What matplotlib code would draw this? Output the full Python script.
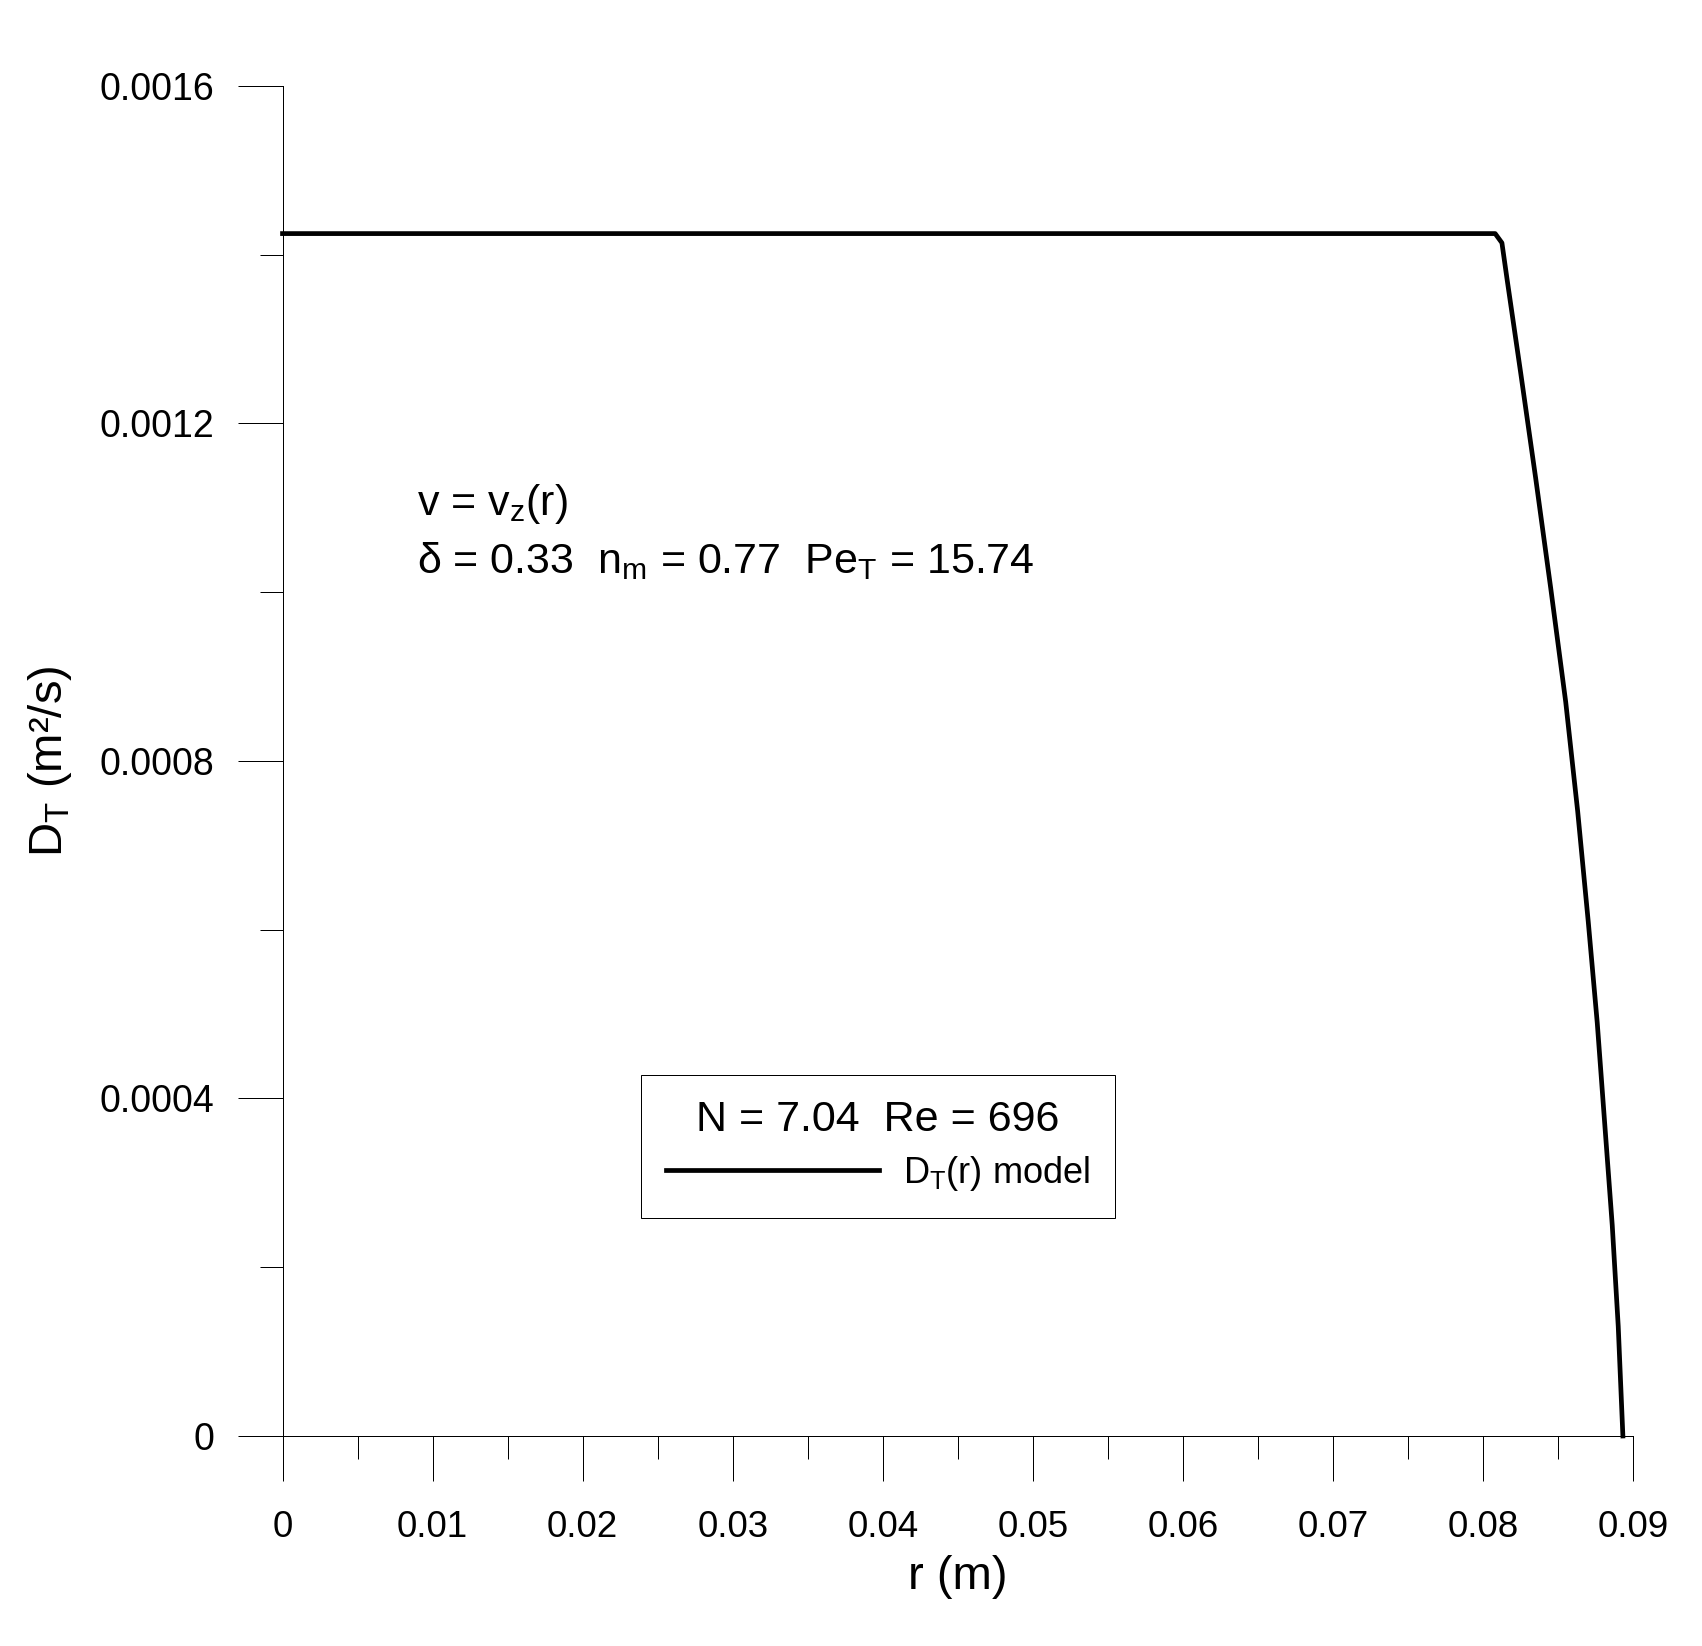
import matplotlib.pyplot as plt
from matplotlib.ticker import MultipleLocator

plt.rcParams['font.family'] = ['Liberation Sans', 'DejaVu Sans']
plt.rcParams['mathtext.fontset'] = 'custom'
plt.rcParams['mathtext.rm'] = 'Liberation Sans'
plt.rcParams['mathtext.it'] = 'Liberation Sans:italic'

# D_T(r) model
r_m = [0.0, 0.0808, 0.08125, 0.0816, 0.0825, 0.0835, 0.0845, 0.0855, 0.0863,
       0.0870, 0.0876, 0.0881, 0.0886, 0.0890, 0.08931]
dt_m2s = [0.001425, 0.001425, 0.001414, 0.00137, 0.00126, 0.001135, 0.001005,
          0.00087, 0.00074, 0.00061, 0.00049, 0.00037, 0.00025, 0.00013, 0.0]

x_ticks = [0, 0.01, 0.02, 0.03, 0.04, 0.05, 0.06, 0.07, 0.08, 0.09]
x_tick_labels = ["0", "0.01", "0.02", "0.03", "0.04", "0.05", "0.06", "0.07", "0.08", "0.09"]
y_ticks = [0, 0.0004, 0.0008, 0.0012, 0.0016]
y_tick_labels = ["0", "0.0004", "0.0008", "0.0012", "0.0016"]

fig = plt.figure(figsize=(17.02, 16.46), dpi=100)
ax = fig.add_axes([0.166, 0.1276, 0.7936, 0.8202])

ax.plot(r_m, dt_m2s, color='black', linewidth=3.4, clip_on=False,
        solid_joinstyle='round', label=r'D$_\mathregular{T}$(r) model')

ax.set_xlim(0, 0.09)
ax.set_ylim(0, 0.0016)
ax.set_xticks(x_ticks)
ax.set_xticklabels(x_tick_labels)
ax.set_yticks(y_ticks)
ax.set_yticklabels(y_tick_labels)
ax.xaxis.set_minor_locator(MultipleLocator(0.005))
ax.yaxis.set_minor_locator(MultipleLocator(0.0002))

for s in ['top', 'right']:
    ax.spines[s].set_visible(False)
for s in ['left', 'bottom']:
    ax.spines[s].set_linewidth(0.72)

ax.tick_params(which='major', direction='out', length=32.4, width=0.72)
ax.tick_params(which='minor', direction='out', length=16.4, width=0.72)
ax.tick_params(axis='x', which='major', pad=21, labelsize=26.5)
ax.tick_params(axis='y', which='major', pad=17, labelsize=27)

ax.set_xlabel("r (m)", fontsize=34, va='center')
ax.xaxis.set_label_coords(0.5, -0.1044)
ax.set_ylabel(r"D$_\mathregular{T}$ (m²/s)", fontsize=34, va='center')
ax.yaxis.set_label_coords(-0.172, 0.5)

ax.text(0.0993, 0.6822, r'v = v$_\mathregular{z}$(r)', transform=ax.transAxes,
        fontsize=31, va='baseline')
ax.text(0.0993, 0.6395, r'δ = 0.33  n$_\mathregular{m}$ = 0.77  Pe$_\mathregular{T}$ = 15.74',
        transform=ax.transAxes, fontsize=31, va='baseline')

leg = ax.legend(loc='upper left', bbox_to_anchor=(641 / 1702, 1 - 1075 / 1646),
                bbox_transform=fig.transFigure, borderaxespad=0,
                title='N = 7.04  Re = 696', title_fontsize=31, fontsize=26,
                handlelength=5.9, handletextpad=0.66, borderpad=0.7,
                labelspacing=0.38, fancybox=False, edgecolor='black', framealpha=1)
leg.get_frame().set_linewidth(0.72)

fig.savefig("out.png", dpi=100)
